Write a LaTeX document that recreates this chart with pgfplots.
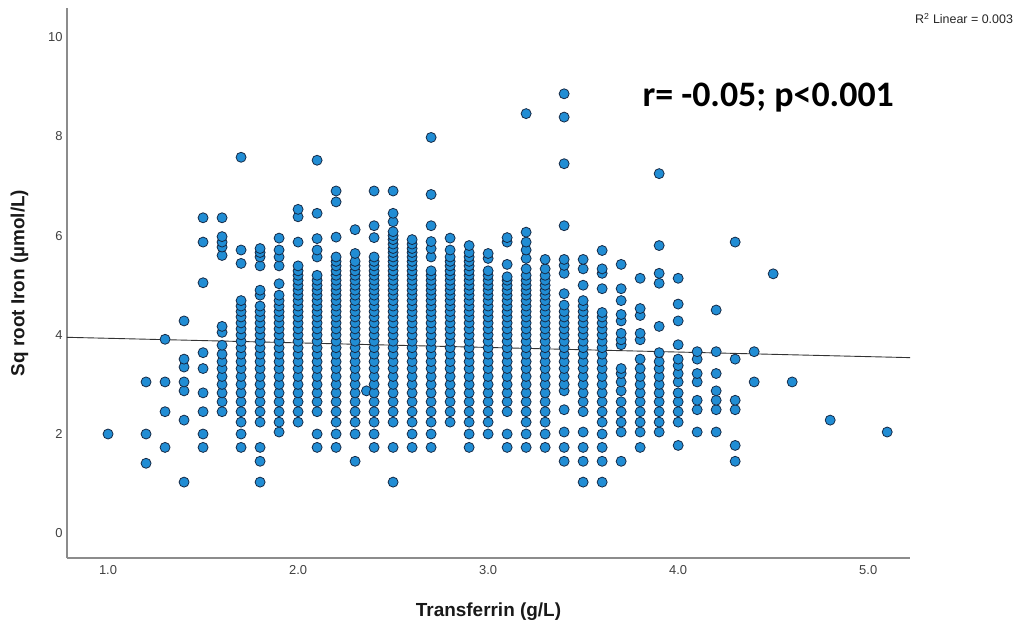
\documentclass[border=0pt]{standalone}
\usepackage{pgfplots}
\pgfplotsset{compat=1.18}
\usepackage{fontspec}
\setmainfont{Liberation Sans}
\newfontfamily\carlito{Carlito}
\definecolor{ptfill}{RGB}{33,141,212}
\definecolor{ptdraw}{RGB}{22,42,70}
\begin{document}
\begin{tikzpicture}
\begin{axis}[
  at={(0,0)}, anchor=south west,
  scale only axis, width=843bp, height=550bp,
  xmin=0.784, xmax=5.22, ymin=-0.5, ymax=10.59,
  axis x line*=bottom, axis y line*=left,
  axis line style={black!45, line width=1.3bp, -},
  xtick={1,2,3,4,5}, ytick={0,2,4,6,8,10},
  major tick length=0pt,
  /pgf/number format/assume math mode=true,
  xticklabel style={/pgf/number format/fixed, /pgf/number format/fixed zerofill, /pgf/number format/precision=1, yshift=-4bp},
  yticklabel style={/pgf/number format/fixed, /pgf/number format/precision=0, xshift=-1bp},
  tick label style={font=\fontsize{13}{15}\selectfont, text=black!75},
  xlabel={Transferrin (g/L)},
  ylabel={Sq root Iron (µmol/L)},
  xlabel style={at={(axis description cs:0.5,-0.0976)}, anchor=center, font=\fontsize{19}{22}\selectfont\bfseries, text=black!90},
  ylabel style={at={(axis description cs:-0.0563,0.5)}, anchor=center, font=\fontsize{19}{22}\selectfont\bfseries, text=black!90},
  clip=false,
]
\addplot[only marks, mark=*, mark size=5bp, mark options={fill=ptfill, draw=ptdraw, line width=0.8bp}] coordinates {
(1.0,2)
(1.2,1.41)(1.2,2)(1.2,3.05)
(1.3,1.73)(1.3,2.45)(1.3,3.05)(1.3,3.91)
(1.4,1.03)(1.4,2.28)(1.4,2.87)(1.4,3.05)(1.4,3.35)(1.4,3.51)(1.4,4.28)
(1.5,1.73)(1.5,2)(1.5,2.45)(1.5,2.83)(1.5,3.32)(1.5,3.64)(1.5,5.05)(1.5,5.87)(1.5,6.36)
(1.6,2.45)(1.6,2.65)(1.6,2.83)(1.6,3)(1.6,3.16)(1.6,3.32)(1.6,3.46)(1.6,3.61)(1.6,3.79)(1.6,4.05)(1.6,4.17)(1.6,5.6)(1.6,5.77)(1.6,5.87)(1.6,5.98)(1.6,6.36)
(1.7,1.73)(1.7,2)(1.7,2.24)(1.7,2.45)(1.7,2.65)(1.7,2.83)(1.7,3)(1.7,3.16)(1.7,3.32)(1.7,3.46)(1.7,3.61)(1.7,3.74)(1.7,3.87)(1.7,4)(1.7,4.12)(1.7,4.24)(1.7,4.36)(1.7,4.47)(1.7,4.58)(1.7,4.69)(1.7,5.44)(1.7,5.71)(1.7,7.58)
(1.8,1.03)(1.8,1.45)(1.8,1.73)(1.8,2.24)(1.8,2.45)(1.8,2.65)(1.8,2.83)(1.8,3)(1.8,3.16)(1.8,3.32)(1.8,3.46)(1.8,3.61)(1.8,3.74)(1.8,3.87)(1.8,4)(1.8,4.12)(1.8,4.24)(1.8,4.36)(1.8,4.47)(1.8,4.58)(1.8,4.8)(1.8,4.9)(1.8,5.39)(1.8,5.57)(1.8,5.66)(1.8,5.74)
(1.9,2.04)(1.9,2.24)(1.9,2.45)(1.9,2.65)(1.9,2.83)(1.9,3)(1.9,3.16)(1.9,3.32)(1.9,3.46)(1.9,3.61)(1.9,3.74)(1.9,3.87)(1.9,4)(1.9,4.12)(1.9,4.24)(1.9,4.36)(1.9,4.47)(1.9,4.58)(1.9,4.69)(1.9,4.8)(1.9,5.03)(1.9,5.39)(1.9,5.57)(1.9,5.71)(1.9,5.95)
(2,2.24)(2,2.45)(2,2.65)(2,2.83)(2,3)(2,3.16)(2,3.32)(2,3.46)(2,3.61)(2,3.74)(2,3.87)(2,4)(2,4.12)(2,4.24)(2,4.36)(2,4.47)(2,4.58)(2,4.69)(2,4.8)(2,4.9)(2,5)(2,5.1)(2,5.2)(2,5.29)(2,5.39)(2,5.87)(2,6.38)(2,6.53)
(2.1,1.73)(2.1,2)(2.1,2.45)(2.1,2.65)(2.1,2.83)(2.1,3)(2.1,3.16)(2.1,3.32)(2.1,3.46)(2.1,3.61)(2.1,3.74)(2.1,3.87)(2.1,4)(2.1,4.12)(2.1,4.24)(2.1,4.36)(2.1,4.47)(2.1,4.58)(2.1,4.69)(2.1,4.8)(2.1,4.9)(2.1,5)(2.1,5.1)(2.1,5.2)(2.1,5.57)(2.1,5.71)(2.1,5.94)(2.1,6.45)(2.1,7.52)
(2.2,1.73)(2.2,2)(2.2,2.24)(2.2,2.45)(2.2,2.65)(2.2,2.83)(2.2,3)(2.2,3.16)(2.2,3.32)(2.2,3.46)(2.2,3.61)(2.2,3.74)(2.2,3.87)(2.2,4)(2.2,4.12)(2.2,4.24)(2.2,4.36)(2.2,4.47)(2.2,4.58)(2.2,4.69)(2.2,4.8)(2.2,4.9)(2.2,5)(2.2,5.1)(2.2,5.2)(2.2,5.29)(2.2,5.39)(2.2,5.48)(2.2,5.57)(2.2,5.97)(2.2,6.68)(2.2,6.9)
(2.3,1.45)(2.3,2)(2.3,2.24)(2.3,2.45)(2.3,2.65)(2.3,2.83)(2.3,3)(2.3,3.16)(2.3,3.32)(2.3,3.46)(2.3,3.61)(2.3,3.74)(2.3,3.87)(2.3,4)(2.3,4.12)(2.3,4.24)(2.3,4.36)(2.3,4.47)(2.3,4.58)(2.3,4.69)(2.3,4.8)(2.3,4.9)(2.3,5)(2.3,5.1)(2.3,5.2)(2.3,5.29)(2.3,5.39)(2.3,5.48)(2.3,5.64)(2.3,6.12)
(2.36,2.87)
(2.4,1.73)(2.4,2)(2.4,2.24)(2.4,2.45)(2.4,2.65)(2.4,2.83)(2.4,3)(2.4,3.16)(2.4,3.32)(2.4,3.46)(2.4,3.61)(2.4,3.74)(2.4,3.87)(2.4,4)(2.4,4.12)(2.4,4.24)(2.4,4.36)(2.4,4.47)(2.4,4.58)(2.4,4.69)(2.4,4.8)(2.4,4.9)(2.4,5)(2.4,5.1)(2.4,5.2)(2.4,5.29)(2.4,5.39)(2.4,5.48)(2.4,5.57)(2.4,5.96)(2.4,6.2)(2.4,6.9)
(2.5,1.03)(2.5,1.73)(2.5,2.24)(2.5,2.45)(2.5,2.65)(2.5,2.83)(2.5,3)(2.5,3.16)(2.5,3.32)(2.5,3.46)(2.5,3.61)(2.5,3.74)(2.5,3.87)(2.5,4)(2.5,4.12)(2.5,4.24)(2.5,4.36)(2.5,4.47)(2.5,4.58)(2.5,4.69)(2.5,4.8)(2.5,4.9)(2.5,5)(2.5,5.1)(2.5,5.2)(2.5,5.29)(2.5,5.39)(2.5,5.48)(2.5,5.57)(2.5,5.66)(2.5,5.74)(2.5,5.83)(2.5,5.92)(2.5,6)(2.5,6.08)(2.5,6.28)(2.5,6.45)(2.5,6.9)
(2.6,1.73)(2.6,2)(2.6,2.24)(2.6,2.45)(2.6,2.65)(2.6,2.83)(2.6,3)(2.6,3.16)(2.6,3.32)(2.6,3.46)(2.6,3.61)(2.6,3.74)(2.6,3.87)(2.6,4)(2.6,4.12)(2.6,4.24)(2.6,4.36)(2.6,4.47)(2.6,4.58)(2.6,4.69)(2.6,4.8)(2.6,4.9)(2.6,5)(2.6,5.1)(2.6,5.2)(2.6,5.29)(2.6,5.39)(2.6,5.48)(2.6,5.57)(2.6,5.66)(2.6,5.74)(2.6,5.83)(2.6,5.92)
(2.7,1.73)(2.7,2)(2.7,2.24)(2.7,2.45)(2.7,2.65)(2.7,2.83)(2.7,3)(2.7,3.16)(2.7,3.32)(2.7,3.46)(2.7,3.61)(2.7,3.74)(2.7,3.87)(2.7,4)(2.7,4.12)(2.7,4.24)(2.7,4.36)(2.7,4.47)(2.7,4.58)(2.7,4.69)(2.7,4.8)(2.7,4.9)(2.7,5)(2.7,5.1)(2.7,5.2)(2.7,5.29)(2.7,5.57)(2.7,5.74)(2.7,5.88)(2.7,6.2)(2.7,6.83)(2.7,7.98)
(2.8,2.24)(2.8,2.45)(2.8,2.65)(2.8,2.83)(2.8,3)(2.8,3.16)(2.8,3.32)(2.8,3.46)(2.8,3.61)(2.8,3.74)(2.8,3.87)(2.8,4)(2.8,4.12)(2.8,4.24)(2.8,4.36)(2.8,4.47)(2.8,4.58)(2.8,4.69)(2.8,4.8)(2.8,4.9)(2.8,5)(2.8,5.1)(2.8,5.2)(2.8,5.29)(2.8,5.39)(2.8,5.48)(2.8,5.57)(2.8,5.71)(2.8,5.95)
(2.9,1.73)(2.9,2)(2.9,2.24)(2.9,2.45)(2.9,2.65)(2.9,2.83)(2.9,3)(2.9,3.16)(2.9,3.32)(2.9,3.46)(2.9,3.61)(2.9,3.74)(2.9,3.87)(2.9,4)(2.9,4.12)(2.9,4.24)(2.9,4.36)(2.9,4.47)(2.9,4.58)(2.9,4.69)(2.9,4.8)(2.9,4.9)(2.9,5)(2.9,5.1)(2.9,5.2)(2.9,5.29)(2.9,5.39)(2.9,5.48)(2.9,5.57)(2.9,5.66)(2.9,5.8)
(3,2)(3,2.24)(3,2.45)(3,2.65)(3,2.83)(3,3)(3,3.16)(3,3.32)(3,3.46)(3,3.61)(3,3.74)(3,3.87)(3,4)(3,4.12)(3,4.24)(3,4.36)(3,4.47)(3,4.58)(3,4.69)(3,4.8)(3,4.9)(3,5)(3,5.1)(3,5.2)(3,5.29)(3,5.54)(3,5.64)
(3.1,1.73)(3.1,2)(3.1,2.45)(3.1,2.65)(3.1,2.83)(3.1,3)(3.1,3.16)(3.1,3.32)(3.1,3.46)(3.1,3.61)(3.1,3.74)(3.1,3.87)(3.1,4)(3.1,4.12)(3.1,4.24)(3.1,4.36)(3.1,4.47)(3.1,4.58)(3.1,4.69)(3.1,4.8)(3.1,4.9)(3.1,5)(3.1,5.1)(3.1,5.17)(3.1,5.42)(3.1,5.87)(3.1,5.96)
(3.2,1.73)(3.2,2)(3.2,2.24)(3.2,2.45)(3.2,2.65)(3.2,2.83)(3.2,3)(3.2,3.16)(3.2,3.32)(3.2,3.46)(3.2,3.61)(3.2,3.74)(3.2,3.87)(3.2,4)(3.2,4.12)(3.2,4.24)(3.2,4.36)(3.2,4.47)(3.2,4.58)(3.2,4.69)(3.2,4.8)(3.2,4.9)(3.2,5)(3.2,5.1)(3.2,5.2)(3.2,5.33)(3.2,5.54)(3.2,5.71)(3.2,5.87)(3.2,6.07)(3.2,8.46)
(3.3,1.73)(3.3,2)(3.3,2.24)(3.3,2.45)(3.3,2.65)(3.3,2.83)(3.3,3)(3.3,3.16)(3.3,3.32)(3.3,3.46)(3.3,3.61)(3.3,3.74)(3.3,3.87)(3.3,4)(3.3,4.12)(3.3,4.24)(3.3,4.36)(3.3,4.47)(3.3,4.58)(3.3,4.69)(3.3,4.8)(3.3,4.9)(3.3,5)(3.3,5.1)(3.3,5.2)(3.3,5.33)(3.3,5.52)
(3.4,1.45)(3.4,1.73)(3.4,2.04)(3.4,2.49)(3.4,2.87)(3.4,3)(3.4,3.16)(3.4,3.32)(3.4,3.46)(3.4,3.61)(3.4,3.74)(3.4,3.87)(3.4,4)(3.4,4.12)(3.4,4.24)(3.4,4.36)(3.4,4.47)(3.4,4.6)(3.4,4.83)(3.4,5.24)(3.4,5.4)(3.4,5.52)(3.4,6.2)(3.4,7.45)(3.4,8.39)(3.4,8.86)
(3.5,1.03)(3.5,1.45)(3.5,1.73)(3.5,2.04)(3.5,2.45)(3.5,2.65)(3.5,2.83)(3.5,3)(3.5,3.16)(3.5,3.32)(3.5,3.46)(3.5,3.61)(3.5,3.74)(3.5,3.87)(3.5,4)(3.5,4.12)(3.5,4.24)(3.5,4.36)(3.5,4.47)(3.5,4.58)(3.5,4.69)(3.5,5)(3.5,5.33)(3.5,5.52)
(3.6,1.03)(3.6,1.45)(3.6,1.73)(3.6,2)(3.6,2.24)(3.6,2.45)(3.6,2.65)(3.6,2.83)(3.6,3)(3.6,3.16)(3.6,3.32)(3.6,3.46)(3.6,3.61)(3.6,3.74)(3.6,3.87)(3.6,4)(3.6,4.12)(3.6,4.24)(3.6,4.36)(3.6,4.45)(3.6,4.93)(3.6,5.24)(3.6,5.33)(3.6,5.7)
(3.7,1.45)(3.7,2.04)(3.7,2.24)(3.7,2.45)(3.7,2.65)(3.7,2.87)(3.7,3.05)(3.7,3.22)(3.7,3.32)(3.7,3.8)(3.7,3.9)(3.7,4.03)(3.7,4.28)(3.7,4.41)(3.7,4.69)(3.7,4.93)(3.7,5.42)
(3.8,1.73)(3.8,2.04)(3.8,2.24)(3.8,2.45)(3.8,2.65)(3.8,2.83)(3.8,3)(3.8,3.16)(3.8,3.32)(3.8,3.51)(3.8,3.9)(3.8,4.03)(3.8,4.39)(3.8,4.53)(3.8,5.14)
(3.9,2.04)(3.9,2.24)(3.9,2.45)(3.9,2.65)(3.9,2.83)(3.9,3)(3.9,3.16)(3.9,3.32)(3.9,3.46)(3.9,3.64)(3.9,4.17)(3.9,5.04)(3.9,5.24)(3.9,5.8)(3.9,7.25)
(4,1.77)(4,2.24)(4,2.45)(4,2.65)(4,2.83)(4,3.05)(4,3.22)(4,3.38)(4,3.51)(4,3.8)(4,4.28)(4,4.62)(4,5.14)
(4.1,2.04)(4.1,2.49)(4.1,2.68)(4.1,3.05)(4.1,3.22)(4.1,3.51)(4.1,3.66)
(4.2,2.04)(4.2,2.49)(4.2,2.68)(4.2,2.87)(4.2,3.22)(4.2,3.66)(4.2,4.5)
(4.3,1.45)(4.3,1.77)(4.3,2.49)(4.3,2.68)(4.3,3.51)(4.3,5.87)
(4.4,3.05)(4.4,3.66)
(4.5,5.23)
(4.6,3.05)
(4.8,2.28)
(5.1,2.04)
};
\addplot[black!80, line width=0.9bp] coordinates {(0.784,3.95)(5.22,3.54)};
\node[anchor=base, font=\carlito\bfseries\fontsize{36}{40}\selectfont] at (axis cs:4.474,8.61) {r= -0.05; p<0.001};
\node[anchor=base east, inner sep=0pt, font=\fontsize{12.5}{14}\selectfont, text=black!85] at (axis cs:5.763,10.28) {R\textsuperscript{2} Linear = 0.003};
\end{axis}
\pgfresetboundingbox
\useasboundingbox (-67bp,-70bp) rectangle (952bp,558bp);
\end{tikzpicture}
\end{document}
